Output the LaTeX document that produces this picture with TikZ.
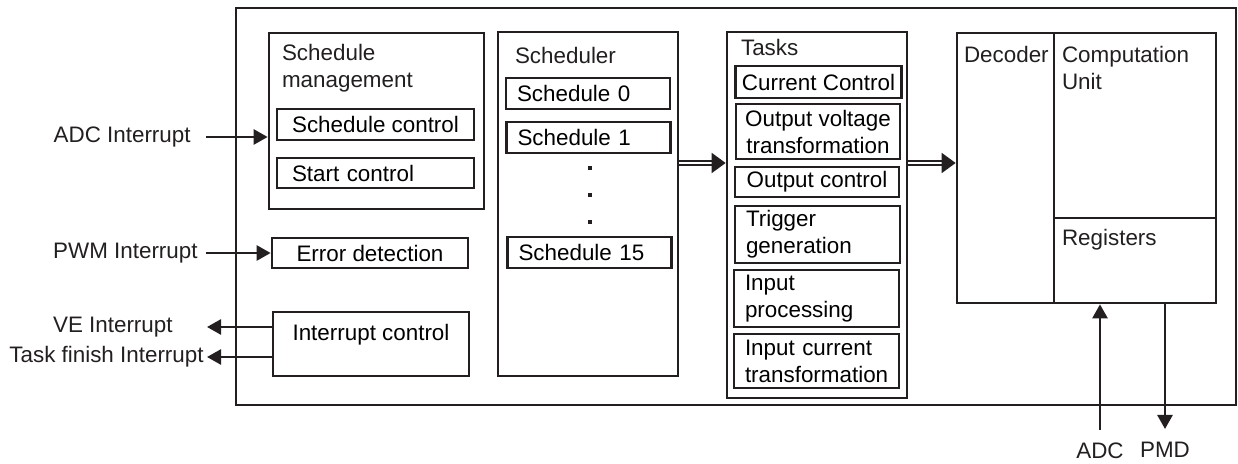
\documentclass[tikz,border=0pt]{standalone}
\usepackage{fontspec}
\setmainfont{Liberation Sans}
\usepackage{tikz}
\usepackage{xcolor}
\usetikzlibrary{arrows.meta,positioning}
\definecolor{dgink}{HTML}{231F20}
\newcommand{\dgfont}{\fontsize{11.2}{13.5}\selectfont}
\tikzset{
  outerBox/.style={draw=dgink, line width=1.2pt, inner sep=0pt},
  blockBox/.style={draw=dgink, line width=1.35pt, inner sep=0pt, font=\dgfont},
  itemBox/.style={draw=dgink, line width=1.35pt, inner ysep=0pt, align=center, font=\dgfont},
  itemLeft/.style={itemBox, align=left, inner xsep=#1},
  titleText/.style={inner sep=0pt, align=left, font=\dgfont, text=dgink},
  sigText/.style={inner sep=0pt, font=\dgfont, text=dgink},
  sigArrow/.style={-{Triangle[length=7pt, width=7.5pt]}, line width=1.3pt, draw=dgink},
  busArrow/.style={-{Triangle[length=7pt, width=10pt]}, double=white, double distance=1.3pt, line width=0.9pt, draw=dgink},
  dotMark/.style={fill=dgink, inner sep=0pt, minimum size=1.7pt}
}

\begin{document}
\begin{tikzpicture}[x=0.5pt, y=-0.5pt]
  \useasboundingbox (0,0) rectangle (1238,464);
  \node[outerBox, minimum width=500pt, minimum height=198.5pt] (outer) at (736,206.5) {};

  % schedule management
  \node[blockBox, minimum width=107.5pt, minimum height=88pt] (mgmt) at (376.5,121) {};
  \node[titleText, below right=6pt and 7pt of mgmt.north west] (mgmtT) {Schedule\\management};
  \node[itemBox, minimum width=98.5pt, minimum height=15.5pt] (schCtl) at (375.5,124.5) {Schedule control};
  \node[itemLeft=7.5pt, text width=83.5pt, minimum height=15pt] (startCtl) at (375.5,173) {Start control};
  \node[itemBox, minimum width=98pt, minimum height=15pt] (error) at (370,253) {Error detection};
  \node[itemBox, minimum width=98pt, text height=14.5pt, text depth=17.5pt] (intCtl) at (371,344) {Interrupt control};

  % scheduler
  \node[blockBox, minimum width=90pt, minimum height=172pt] (sched) at (588,204) {};
  \node[titleText, below right=8pt and 9pt of sched.north west] (schedT) {Scheduler};
  \node[itemLeft=5.5pt, text width=71pt, minimum height=15.5pt] (sch0) at (588,93.5) {Schedule 0};
  \node[itemLeft=5.5pt, text width=71pt, minimum height=15.5pt] (sch1) at (588.5,137.5) {Schedule 1};
  \node[itemLeft=5.5pt, text width=71pt, minimum height=15.5pt] (sch15) at (589.5,252.5) {Schedule 15};
  \foreach \dy in {168,195,222}
    \node[dotMark] at (590,\dy) {};

  % tasks
  \node[blockBox, minimum width=90pt, minimum height=183pt] (tasks) at (817,215) {};
  \node[titleText, below right=4pt and 7.5pt of tasks.north west] (tasksT) {Tasks};
  \node[itemBox, minimum width=82.5pt, minimum height=16pt] (curCtl) at (818.5,82) {Current Control};
  \node[itemBox, minimum width=82pt, minimum height=27.5pt] (outVolt) at (818,131.5) {Output voltage\\transformation};
  \node[itemBox, minimum width=82pt, minimum height=15pt] (outCtl) at (817,182) {Output control};
  \node[itemLeft=5.5pt, text width=71.5pt, minimum height=28.5pt] (trigGen) at (817.5,234.5) {Trigger\\generation};
  \node[itemLeft=5.5pt, text width=71.5pt, minimum height=28.5pt] (inProc) at (816.5,298.5) {Input\\processing};
  \node[itemLeft=5.5pt, text width=71.5pt, minimum height=27pt] (inCur) at (816.5,361) {Input current\\transformation};

  % decoder and computation unit
  \node[blockBox, minimum width=48.5pt, minimum height=135pt] (dec) at (1005.5,168) {};
  \node[titleText, below right=7pt and 4pt of dec.north west] (decT) {Decoder};
  \node[blockBox, minimum width=81pt, minimum height=92.5pt] (comp) at (1135,125.5) {};
  \node[titleText, below right=7pt and 4.5pt of comp.north west] (compT) {Computation\\Unit};
  \node[blockBox, minimum width=81pt, minimum height=42.5pt] (regs) at (1135,260.5) {};
  \node[titleText, below right=6pt and 4.5pt of regs.north west] (regsT) {Registers};

  % signal ends
  \coordinate (adcTail) at (206,137);
  \coordinate (pwmTail) at (206,253);
  \coordinate (veTip) at (207,327);
  \coordinate (taskTip) at (207,357);
  \coordinate (adcUp) at (1100,430);
  \coordinate (pmdTip) at (1165,429);
  \node[sigText, left=7.5pt of adcTail] (adcIn) {ADC Interrupt};
  \node[sigText, left=4pt of pwmTail] (pwmIn) {PWM Interrupt};
  \node[sigText, left=17pt of veTip] (veOut) {VE Interrupt};
  \node[sigText, left=1.5pt of taskTip] (taskOut) {Task finish Interrupt};
  \node[sigText, below=6pt of adcUp] (adcSig) {ADC};
  \node[sigText, below=6.5pt of pmdTip] (pmdSig) {PMD};

  \draw[sigArrow] (adcTail) -- (adcTail -| mgmt.west);
  \draw[sigArrow] (pwmTail) -- (error.west);
  \draw[sigArrow] (intCtl.west |- veTip) -- (veTip);
  \draw[sigArrow] (intCtl.west |- taskTip) -- (taskTip);
  \draw[sigArrow] (adcUp) -- (adcUp |- regs.south);
  \draw[sigArrow] (regs.south -| pmdTip) -- (pmdTip);
  \draw[busArrow] ([yshift=20.5pt]sched.east) -- ([yshift=20.5pt]sched.east -| tasks.west);
  \draw[busArrow] ([yshift=2.5pt]dec.west -| tasks.east) -- ([yshift=2.5pt]dec.west);
\end{tikzpicture}
\end{document}
